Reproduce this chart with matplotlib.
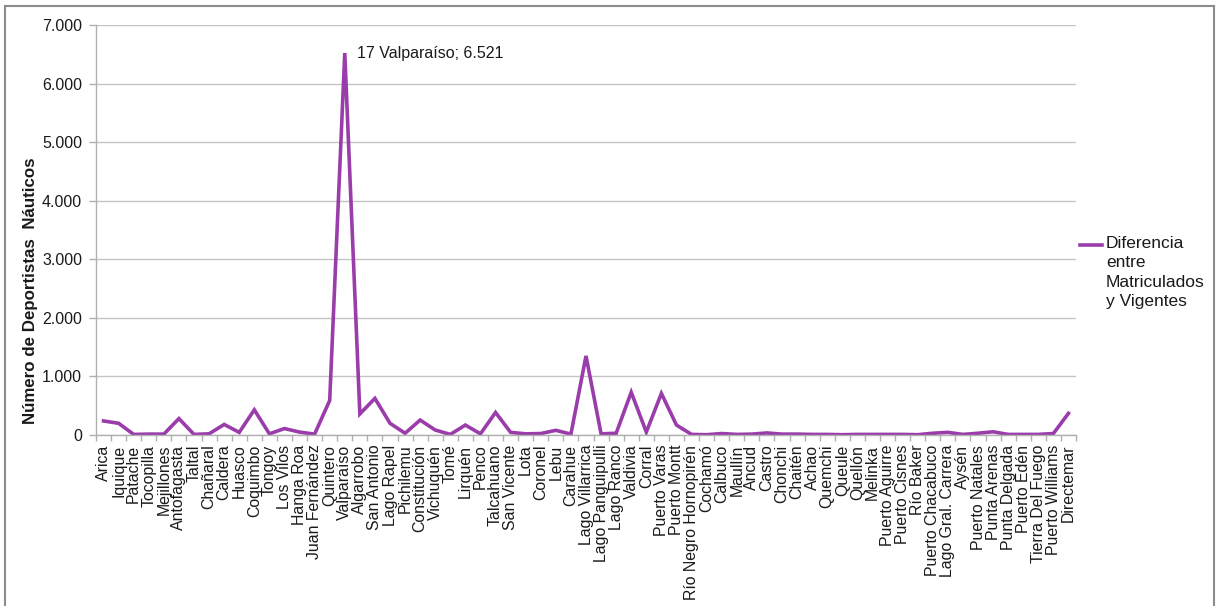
import matplotlib
matplotlib.use("Agg")
import matplotlib.pyplot as plt
from matplotlib.lines import Line2D
from matplotlib.ticker import FuncFormatter, FixedLocator

plt.rcParams['font.family'] = ['Liberation Sans', 'DejaVu Sans']

# Ports / harbour offices along the Chilean coast
puertos = [
    "Arica", "Iquique", "Patache", "Tocopilla", "Mejillones", "Antofagasta",
    "Taltal", "Chañaral", "Caldera", "Huasco", "Coquimbo", "Tongoy",
    "Los Vilos", "Hanga Roa", "Juan Fernández", "Quintero", "Valparaíso",
    "Algarrobo", "San Antonio", "Lago Rapel", "Pichilemu", "Constitución",
    "Vichuquén", "Tomé", "Lirquén", "Penco", "Talcahuano", "San Vicente",
    "Lota", "Coronel", "Lebu", "Carahue", "Lago Villarrica",
    "Lago Panguipulli", "Lago Ranco", "Valdivia", "Corral", "Puerto Varas",
    "Puerto Montt", "Río Negro Hornopirén", "Cochamó", "Calbuco", "Maullín",
    "Ancud", "Castro", "Chonchi", "Chaitén", "Achao", "Quemchi", "Queule",
    "Quellón", "Melinka", "Puerto Aguirre", "Puerto Cisnes", "Río Baker",
    "Puerto Chacabuco", "Lago Gral. Carrera", "Aysén", "Puerto Natales",
    "Punta Arenas", "Punta Delgada", "Puerto Edén", "Tierra Del Fuego",
    "Puerto Williams", "Directemar",
]

# Difference between registered and current nautical sport licences
diferencia = [
    240, 200, 10, 15, 15, 280,
    10, 20, 180, 45, 430, 20,
    110, 50, 15, 590, 6521,
    360, 625, 200, 30, 255,
    85, 10, 170, 20, 385, 45,
    20, 25, 80, 15, 1350,
    20, 30, 730, 50, 710,
    170, 10, 5, 25, 10,
    15, 35, 15, 15, 10, 10, 5,
    10, 10, 10, 10, 5,
    30, 45, 10, 30,
    55, 10, 10, 10,
    25, 370,
]

serie_label = "Diferencia\nentre\nMatriculados\ny Vigentes"
eje_y = "Número de Deportistas  Náuticos"
y_ticks = [0, 1000, 2000, 3000, 4000, 5000, 6000, 7000]

W, H = 1218, 606
fig = plt.figure(figsize=(W / 100, H / 100), dpi=100)
ax = fig.add_axes([96 / W, 1 - 435 / H, 980 / W, 410 / H])

color = "#9a3dab"
grid_c = "#c4c4c4"
axis_c = "#b0b0b0"
text_c = "#1a1a1a"

x = list(range(len(puertos)))
ax.plot(x, diferencia, color=color, lw=2.6, solid_joinstyle="miter")

ax.set_xlim(-0.5, len(puertos) - 0.5)
ax.set_ylim(0, 7000)
ax.set_yticks(y_ticks)
ax.yaxis.set_major_formatter(FuncFormatter(lambda v, p: f"{int(v):,}".replace(",", ".")))
ax.grid(axis="y", color=grid_c, lw=1.0)
ax.set_axisbelow(True)

ax.set_xticks(x)
ax.set_xticklabels(puertos, rotation=90, fontsize=11.4, color=text_c)
ax.xaxis.set_minor_locator(FixedLocator([i - 0.5 for i in range(len(puertos) + 1)]))
ax.tick_params(axis="x", which="major", length=0, pad=7)
ax.tick_params(axis="x", which="minor", length=4, color=axis_c, width=1)
ax.tick_params(axis="y", which="major", length=5, color=axis_c, width=1,
               labelsize=11.5, labelcolor=text_c, pad=5)

for s in ("top", "right"):
    ax.spines[s].set_visible(False)
for s in ("left", "bottom"):
    ax.spines[s].set_color(axis_c)
    ax.spines[s].set_linewidth(1.0)

ax.set_ylabel(eje_y, fontsize=12.2, fontweight="bold", color=text_c)
ax.yaxis.set_label_coords(-58 / 980, 0.351)

# Label on the peak value
imax = diferencia.index(max(diferencia))
ax.annotate(f"{imax + 1} {puertos[imax]}; {diferencia[imax]:,}".replace(",", "."),
            xy=(imax, diferencia[imax]), xytext=(8.5, 0), textcoords="offset points",
            ha="left", va="center", fontsize=11.5, color=text_c)

# Legend drawn beside the plot area
ly = 1 - 245 / H
fig.add_artist(Line2D([1080 / W, 1102 / W], [ly, ly], color=color, lw=2.6,
                      transform=fig.transFigure))
fig.text(1106 / W, 1 - 236 / H, serie_label, ha="left", va="top",
         fontsize=12.5, linespacing=1.37, color=text_c)

# Chart frame
fc = "#8c8c8c"
for xs, ys in (([5 / W, 5 / W], [0, 1 - 6 / H]),
               ([1214 / W, 1214 / W], [0, 1 - 6 / H]),
               ([5 / W, 1214 / W], [1 - 6 / H, 1 - 6 / H])):
    fig.add_artist(Line2D(xs, ys, color=fc, lw=1.5, transform=fig.transFigure))

fig.savefig("out.png", dpi=100)
